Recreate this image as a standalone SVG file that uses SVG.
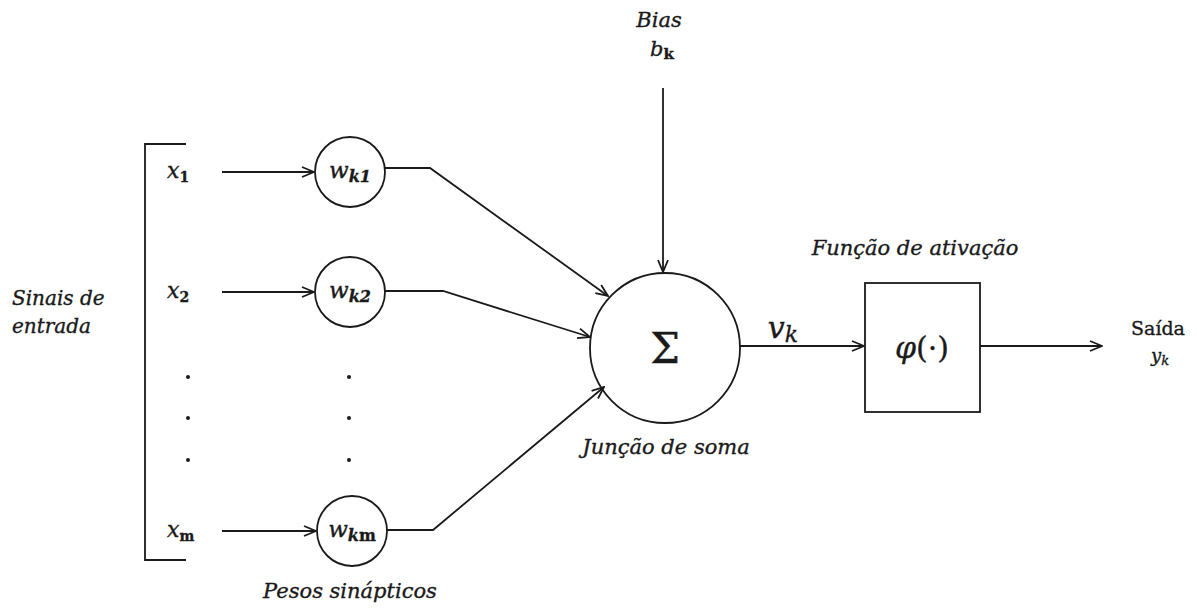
<svg xmlns="http://www.w3.org/2000/svg" width="1197" height="611" viewBox="0 0 1197 611">
<style>
.ln{fill:none;stroke:#1a1a1a;stroke-width:1.8}
.nd{fill:#fff;stroke:#1a1a1a;stroke-width:1.8}
.t{font-family:"DejaVu Serif","Liberation Serif",serif;font-style:italic;fill:#1a1a1a;stroke:#1a1a1a;stroke-width:0.35}
.m{font-family:"DejaVu Serif","Liberation Serif",serif;fill:#1a1a1a;stroke:#1a1a1a;stroke-width:0.35}
.sb{font-style:normal;font-weight:bold}
.dot{fill:#1a1a1a}
</style>
<defs>
<marker id="ar" viewBox="0 0 14 12" refX="13" refY="6" markerWidth="14" markerHeight="12" markerUnits="userSpaceOnUse" orient="auto">
<path d="M1,1 L13,6 L1,11" fill="none" stroke="#1a1a1a" stroke-width="1.8"/>
</marker>
</defs>
<rect width="1197" height="611" fill="#fff"/>

<g id="inputs">
<path class="ln" d="M186,144 H145 V560 H186"/>
<text class="t" x="167" y="178" font-size="22">x<tspan class="sb" font-size="14" dy="4">1</tspan></text>
<text class="t" x="167" y="298" font-size="22">x<tspan class="sb" font-size="14" dy="4">2</tspan></text>
<text class="t" x="167" y="537" font-size="22">x<tspan class="sb" font-size="14" dy="4">m</tspan></text>
<circle class="dot" cx="188" cy="377" r="2"/>
<circle class="dot" cx="188" cy="418" r="2"/>
<circle class="dot" cx="188" cy="460" r="2"/>
<text class="t" x="12" y="305" font-size="20">Sinais de</text>
<text class="t" x="12" y="333" font-size="20">entrada</text>
</g>

<g id="w1">
<circle class="nd" cx="350" cy="172" r="35"/>
<text class="t" x="350" y="178" font-size="23" text-anchor="middle">w<tspan font-size="16" dy="4" font-weight="bold">k1</tspan></text>
</g>
<g id="w2">
<circle class="nd" cx="350" cy="292" r="35"/>
<text class="t" x="350" y="298" font-size="23" text-anchor="middle">w<tspan font-size="16" dy="4" font-weight="bold">k2</tspan></text>
</g>
<g id="wm">
<circle class="nd" cx="352" cy="531" r="35"/>
<text class="t" x="352" y="537" font-size="23" text-anchor="middle">w<tspan font-size="16" dy="4" font-weight="bold">k</tspan><tspan class="sb" font-size="16">m</tspan></text>
</g>
<g id="wdots">
<circle class="dot" cx="349" cy="377" r="2"/>
<circle class="dot" cx="349" cy="418" r="2"/>
<circle class="dot" cx="349" cy="460" r="2"/>
<text class="t" x="350" y="598" font-size="21" text-anchor="middle">Pesos sinápticos</text>
</g>

<g id="bias">
<text class="t" x="659" y="27" font-size="21" text-anchor="middle">Bias</text>
<text class="t" x="662" y="56" font-size="21" text-anchor="middle">b<tspan class="sb" font-size="15" dy="3">k</tspan></text>
</g>

<g id="sum">
<circle class="nd" cx="665" cy="348" r="75"/>
<text class="m" x="665" y="363" font-size="42" text-anchor="middle">Σ</text>
<text class="t" x="666" y="454" font-size="21" text-anchor="middle">Junção de soma</text>
</g>

<g id="act">
<rect class="nd" x="865" y="283" width="115" height="129"/>
<text class="t" x="922" y="358" font-size="30" text-anchor="middle">φ<tspan font-style="normal">(·)</tspan></text>
<text class="t" x="915" y="255" font-size="21" text-anchor="middle">Função de ativação</text>
</g>

<g id="out">
<text class="m" x="1158" y="335" font-size="19" text-anchor="middle">Saída</text>
<text class="t" x="1160" y="362" font-size="18" text-anchor="middle">y<tspan font-size="13" dy="3">k</tspan></text>
</g>

<g id="connectors">
<line class="ln" x1="222" y1="172" x2="314" y2="172" marker-end="url(#ar)"/>
<line class="ln" x1="222" y1="292" x2="314" y2="292" marker-end="url(#ar)"/>
<line class="ln" x1="222" y1="531" x2="316" y2="531" marker-end="url(#ar)"/>
<polyline class="ln" points="385,168 430,168 608,296" marker-end="url(#ar)"/>
<polyline class="ln" points="385,291 443,291 590,337" marker-end="url(#ar)"/>
<polyline class="ln" points="387,530 433,530 604,387" marker-end="url(#ar)"/>
<line class="ln" x1="663" y1="88" x2="663" y2="272" marker-end="url(#ar)"/>
<line class="ln" x1="740" y1="346" x2="864" y2="346" marker-end="url(#ar)"/>
<line class="ln" x1="980" y1="346" x2="1102" y2="346" marker-end="url(#ar)"/>
<text class="t" x="783" y="338" font-size="30" text-anchor="middle">v<tspan font-size="22" dy="4">k</tspan></text>
</g>
</svg>
